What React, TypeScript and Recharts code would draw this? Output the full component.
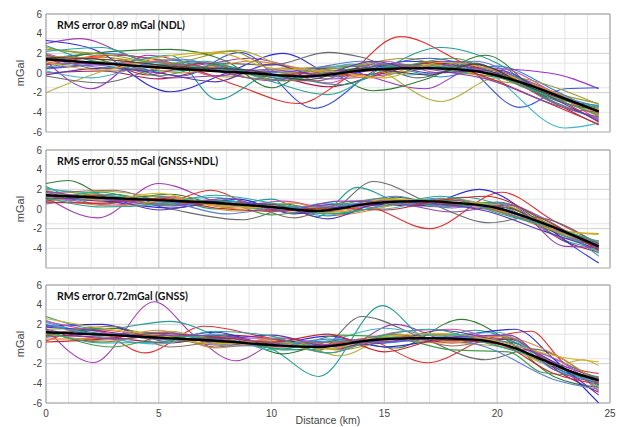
import { CartesianGrid, Line, LineChart, ReferenceArea, XAxis, YAxis } from "recharts";

type Pt = [number, number];

const X_TICKS = [0, 5, 10, 15, 20, 25];
const Y_TICKS = [-6, -4, -2, 0, 2, 4, 6];
const X_MINOR = [0, 1, 2, 3, 4, 5, 6, 7, 8, 9, 10, 11, 12, 13, 14, 15, 16, 17, 18, 19, 20, 21, 22, 23, 24, 25];
const Y_MINOR = [-6, -5.5, -5, -4.5, -4, -3.5, -3, -2.5, -2, -1.5, -1, -0.5, 0, 0.5, 1, 1.5, 2, 2.5, 3, 3.5, 4, 4.5, 5, 5.5, 6];

// ---- panel 1: NDL ----
const NDL_TITLE = "RMS error 0.89 mGal (NDL)";
const NDL_MEAN: Pt[] = [[0, 1.4], [3, 0.9], [6, 0.4], [9, 0.0], [11.5, -0.35], [14.5, 0.35], [17, 0.5], [19, 0.2], [21, -0.9], [23, -2.6], [24.5, -3.9]];
const NDL_RUNS: Pt[][] = [
  [[0, 1.2], [2.5, 1.6], [5, 0.7], [7.5, 0.6], [10, -0.4], [12.5, 0.0], [15, 0.3], [17.5, 0.9], [20, -0.4], [22.5, -2.2], [24.5, -4.4]],
  [[0, 1.8], [3, 0.6], [5.5, 0.2], [8, 0.5], [10.5, -0.6], [13, 0.1], [15.5, 0.9], [18, 0.2], [20.5, -0.7], [23, -2.8], [24.5, -3.3]],
  [[0, 0.4], [2.5, 0.9], [5, 1.1], [7.5, 0.2], [10, 0.1], [12.5, -0.6], [15, -0.2], [17.5, 0.6], [20, 0.0], [22.5, -2.9], [24.5, -4.7]],
  [[0, 2.6], [3, 1.5], [5.5, 0.9], [8, -0.4], [10.5, 0.5], [13, -0.2], [15.5, 0.0], [18, 1.0], [20.5, -0.2], [23, -2.3], [24.5, -3.1]],
  [[0, 1.4], [2.5, 2.0], [5, 1.4], [7.5, 0.9], [10, 0.0], [12.5, 0.6], [15, 0.7], [17.5, -0.4], [20, 0.7], [22.5, -1.7], [24.5, -4.1]],
  [[0, 0.0], [2.5, 0.2], [5, -0.6], [7.5, 0.4], [10, -0.2], [12.5, -1.4], [15, 0.0], [17.5, 1.2], [20, -0.1], [22.5, -3.0], [24.5, -5.3]],
  [[0, 3.0], [1.5, 3.5], [4, 1.5], [6.5, 0.8], [9, 1.5], [12, 0.2], [15, 0.5], [18, 1.2], [21, -0.5], [24.5, -4.2]],
  [[0, 1.2], [2, -1.6], [4.5, 1.8], [7, 0.6], [10, -0.8], [12.5, 0.5], [16.8, -1.6], [19, 0.5], [22.3, 0.0], [24.5, -1.6]],
  [[0, 3.3], [2, 2.5], [5.5, -1.9], [8, 0.0], [10.5, 2.0], [13, -0.3], [16, 1.2], [19, 0.5], [24.5, -4.0]],
  [[0, 0.5], [3, 0.9], [6, -0.3], [8.6, 2.1], [11.9, -3.6], [14.8, 0.5], [17, 1.5], [18.5, 0.8], [21, -3.5], [23, -1.6], [24.5, -1.5]],
  [[0, -2.0], [3, 0.5], [6, 1.6], [8.5, 2.3], [11, 0.5], [14, 0.8], [17.5, -2.9], [20, -0.5], [24.5, -4.5]],
  [[0, 1.0], [3, 1.8], [6, 0.8], [8.5, -1.3], [11.2, -3.1], [13, -1.0], [15.7, 3.7], [19, 0.5], [21, -0.8], [24.5, -5.0]],
  [[0, 2.8], [3, 1.0], [5.5, 1.8], [7.6, -2.7], [10, -0.2], [13, -1.2], [17.5, 2.6], [20, 1.0], [22.5, -3.0], [24.5, -4.6]],
  [[0, 0.2], [2, -0.5], [5, 0.9], [8, 0.3], [11, -0.5], [13.5, 0.9], [16, -0.2], [19, 0.4], [23, -5.6], [24.5, -5.1]],
  [[0, -0.3], [2.5, -1.0], [5, 0.5], [7.5, 1.0], [10, 0.8], [12.5, 2.1], [14, 1.6], [16.5, -0.5], [19, 1.0], [21, -1.3], [24.5, -3.6]],
  [[0, 1.3], [3, 2.2], [5.5, 2.4], [8, 1.2], [10, -1.5], [12, 0.5], [14.5, -1.8], [17, -0.5], [19.5, 1.8], [22, -2.2], [24.5, -3.8]],
  [[0, 2.0], [2.5, 0.8], [5, 1.2], [7.5, -0.3], [10, 0.4], [12.5, -1.0], [15, 1.2], [17.5, 0.0], [20, 0.5], [22.5, -2.0], [24.5, -4.8]],
  [[0, 1.7], [3, 1.3], [6, 0.0], [9, 1.2], [12, 0.2], [14.5, -0.5], [17, 1.0], [20, -0.8], [22, -1.5], [24.5, -4.2]],
  [[0, 2.4], [2.5, 1.9], [5.5, 1.0], [8.2, 2.2], [10.5, 0.0], [13, 0.5], [16, 1.5], [18.5, 0.0], [21, -0.5], [24.5, -3.2]],
  [[0, 0.8], [2, 1.5], [4.5, -0.2], [7, 1.0], [9.5, -0.3], [12, 0.0], [14, -0.2], [17, 1.0], [19.5, -0.4], [22, -2.8], [24.5, -5.2]],
  [[0, 1.5], [3, 0.5], [6, 1.4], [8.5, 0.3], [11, 0.3], [14, 1.2], [16.5, 0.4], [19, 1.2], [22, -1.8], [24.5, -3.4]],
  [[0, 0.6], [2.5, 1.2], [5, -0.3], [7.5, 0.8], [10.5, -0.8], [13, 0.3], [15.5, 0.6], [18, 1.5], [20.5, -0.8], [23, -3.0], [24.5, -4.3]],
  [[0, 2.2], [2.5, 2.6], [5, 0.8], [7, 1.2], [9.5, -0.5], [12.5, -2.2], [15.5, 0.8], [18, 0.6], [20, -0.3], [22.5, -2.5], [24.5, -3.5]],
  [[0, 0.9], [3, 1.0], [5.5, -0.5], [8, -0.2], [10.5, 0.2], [13, -0.4], [15, 0.9], [17.5, 0.2], [19.5, -0.6], [22.5, -3.2], [24.5, -4.5]],
  [[0, 1.9], [3, 0.2], [6, 0.9], [9, -0.5], [12, -0.8], [14.5, 0.9], [17, 0.6], [20, -0.2], [23, -3.5], [24.5, -4.0]],
  [[0, -0.2], [2.5, 0.5], [5, 0.0], [7.5, -0.9], [10, 0.9], [12, -0.2], [14.5, 1.2], [17, 0.0], [20, 0.3], [22.5, -2.6], [24.5, -4.9]],
  [[0, 1.1], [2.5, 0.3], [5, 1.6], [7.5, 2.1], [10, 0.5], [12.5, 0.2], [15, -0.5], [17.5, 1.1], [20, 0.2], [22.5, -2.4], [24.5, -3.7]],
  [[0, 1.6], [3, 1.3], [6, 0.6], [9, 0.3], [11.5, -0.7], [14, 0.5], [17, -0.2], [19, 0.9], [21.5, -1.5], [24.5, -3.9]],
];
const NDL_COLORS = [
  "#ff5722", "#00897b", "#7e57c2", "#9e9d24", "#1e88e5", "#ad1457",
  "#a33ab5", "#9b30c8", "#2b2bd9", "#3a55e0", "#b5ad3a", "#e0312f", "#1f9e96", "#3ab5c9",
  "#6a6a6a", "#2e7d32", "#d64fb0", "#e08a2c", "#9a9a2a", "#c62828", "#5d7bd6", "#43a047",
  "#26a69a", "#8e44ad", "#8d6e63", "#5e35b1", "#d4b21f", "#424242",
];

// ---- panel 2: GNSS+NDL ----
const MIX_TITLE = "RMS error 0.55 mGal (GNSS+NDL)";
const MIX_MEAN: Pt[] = [[0, 1.4], [3, 1.1], [5, 0.9], [8, 0.55], [10, 0.2], [12, -0.2], [14.5, 0.6], [16.5, 0.8], [18, 0.65], [20, 0.1], [22, -1.4], [24.5, -3.8]];
const MIX_RUNS: Pt[][] = [
  [[0, 1.4], [2.5, 1.2], [5, 0.9], [7.5, 0.4], [10, 0.4], [12.5, -0.2], [15, 0.8], [17.5, 0.6], [20, 0.3], [22.5, -1.7], [24.5, -3.7]],
  [[0, 1.0], [3, 1.5], [5.5, 0.4], [8, 0.8], [10.5, 0.0], [13, 0.5], [15.5, 0.5], [18, 0.9], [20.5, -0.3], [23, -2.4], [24.5, -3.5]],
  [[0, 1.7], [2.5, 0.8], [5, 1.0], [7.5, 0.7], [10, -0.1], [12.5, -0.1], [15, 0.6], [17.5, 0.2], [20, 0.4], [22.5, -2.0], [24.5, -4.0]],
  [[0, 2.1], [3, 1.3], [5.5, 1.3], [8, 0.2], [10.5, 0.3], [13, -0.3], [15.5, 1.0], [18, 0.7], [20.5, -0.6], [23, -2.8], [24.5, -4.2]],
  [[0, 0.9], [2.5, 1.0], [5, 0.6], [7.5, 0.9], [10, 0.3], [12.5, -0.7], [15, 0.4], [17.5, 1.1], [20, -0.1], [22.5, -2.1], [24.5, -3.6]],
  [[0, 1.3], [3, 0.8], [5.5, 1.0], [8, 0.5], [10.5, 0.1], [13, 0.1], [15.5, 0.5], [18, 0.5], [20.5, 0.1], [23, -3.3], [24.5, -4.4]],
  [[0, 2.6], [1, 2.9], [3, 1.0], [5.5, 1.5], [8, 0.4], [10.5, 0.5], [13, -0.5], [15.5, 1.2], [18, 0.3], [20, 0.5], [22.5, -2.3], [24.5, -3.9]],
  [[0, 1.2], [2.3, -0.9], [5, 2.6], [7.5, 0.8], [10, 0.0], [12.5, 0.4], [15, 0.5], [17.5, 1.0], [20, 0.0], [22, -1.5], [24.5, -4.0]],
  [[0, 0.8], [2.5, 1.4], [5, 0.5], [7.3, 1.9], [9.5, 0.0], [12, -0.4], [14, 0.3], [17, -2.0], [20.2, 1.7], [22.5, -1.2], [24.5, -3.5]],
  [[0, 1.0], [3, 1.2], [5.5, 0.0], [8.7, -1.1], [11, 0.2], [12.5, -0.2], [14.5, 2.8], [17, 0.6], [19.7, -1.4], [21.5, -0.8], [24.5, -3.6]],
  [[0, 2.3], [2.5, 0.5], [5, 1.3], [7.5, 0.0], [10, 1.0], [12, -0.8], [13.8, 2.2], [16, 0.5], [18.5, 1.2], [21, -0.5], [23, -3.2], [24.5, -4.0]],
  [[0, 1.8], [3, 0.7], [5.5, 0.1], [8.5, 1.0], [11, -0.5], [14, 0.5], [16.5, 0.3], [19.2, 2.0], [22, -1.5], [23.5, -4.0], [24.5, -5.5]],
  [[0, 0.6], [2.5, 1.8], [5.5, 1.0], [8.5, -0.2], [11, 0.3], [13.5, -0.3], [16, 0.8], [18.5, 0.2], [21, -0.5], [23.5, -2.4], [24.5, -2.5]],
  [[0, 2.0], [2.5, 1.5], [5, 0.8], [7.5, 1.2], [10, -0.3], [12.5, 0.6], [15, 0.0], [17.5, 1.1], [20, 0.2], [22.5, -2.2], [24.5, -4.3]],
  [[0, 1.5], [3, 0.4], [5.5, 1.2], [8, 0.2], [10.5, 0.8], [13, -0.1], [15.5, 0.9], [18, 0.3], [20.5, -0.2], [23, -3.0], [24.5, -3.2]],
  [[0, 0.9], [2.5, 1.7], [5, 0.4], [7.5, 0.9], [10, -0.6], [12.5, 0.2], [15, 1.1], [17.5, 0.3], [20, 0.7], [22.5, -1.8], [24.5, -4.5]],
  [[0, 1.3], [3, 0.3], [6, 1.0], [8.5, 0.0], [11, 0.6], [13, -0.6], [15.5, 0.4], [18, 1.0], [20.5, -0.5], [23, -2.6], [24.5, -3.7]],
  [[0, 1.1], [2.5, 1.1], [5, -0.1], [7.5, 0.6], [10, 0.5], [12.5, -1.0], [15, 0.7], [17.5, 0.5], [19.5, -0.2], [22, -2.2], [24.5, -4.1]],
  [[0, 1.6], [3, 1.9], [5.5, 0.6], [8.5, 0.6], [11, -0.9], [13.5, 0.8], [16, 0.9], [18.5, 0.6], [21, -0.9], [24.5, -3.4]],
  [[0, 0.5], [3, 1.2], [5.5, 0.7], [8, -0.5], [10.5, 0.2], [13, 0.3], [15.5, 1.3], [18, 0.1], [20, 0.6], [22.5, -1.5], [24.5, -4.8]],
  [[0, 1.9], [2.5, 0.9], [5, 1.6], [7.5, 0.3], [10, 0.1], [12.5, -0.4], [15, 1.0], [17.5, 0.8], [20.5, 0.3], [22.5, -2.0], [24.5, -2.6]],
  [[0, 0.7], [2.5, 0.6], [5, 1.1], [7.5, 0.1], [10, -0.2], [12.5, 0.1], [15, -0.1], [17.5, 0.9], [19.5, 1.3], [22, -1.0], [24.5, -4.2]],
  [[0, 1.8], [3, 0.9], [5.5, 0.3], [8, 1.1], [10.5, -0.2], [13, 0.8], [15.5, 0.6], [18, -0.3], [20.5, 0.4], [23, -3.8], [24.5, -3.9]],
  [[0, 1.2], [2.5, 0.2], [5, 0.5], [7.5, 1.4], [10, 0.6], [12.5, -0.5], [15, 0.3], [17.5, 1.3], [20, -0.4], [22.5, -1.9], [24.5, -3.3]],
];
const MIX_COLORS = [
  "#ff5722", "#00897b", "#7e57c2", "#9e9d24", "#1e88e5", "#ad1457",
  "#2e7d32", "#a33ab5", "#e0312f", "#6a6a6a", "#1f9e96", "#2b2bd9", "#b5ad3a", "#3ab5c9", "#d64fb0",
  "#43a047", "#e08a2c", "#5e35b1", "#8d6e63", "#5d7bd6", "#d4b21f", "#c62828", "#8e44ad", "#26a69a",
];

// ---- panel 3: GNSS ----
const GNSS_TITLE = "RMS error 0.72mGal (GNSS)";
const GNSS_MEAN: Pt[] = [[0, 1.2], [3, 0.9], [5, 0.65], [8, 0.25], [10, -0.1], [12, -0.3], [14.5, 0.4], [16.5, 0.6], [19, 0.45], [20.5, -0.2], [22, -1.6], [23.5, -3.0], [24.5, -3.7]];
const GNSS_RUNS: Pt[][] = [
  [[0, 1.1], [2.5, 1.4], [5, 0.7], [7.5, 0.2], [10, -0.3], [12.5, 0.0], [15, 0.6], [17.5, 0.9], [20, 0.1], [22.5, -2.3], [24.5, -3.7]],
  [[0, 1.9], [3, 0.9], [5.5, 0.5], [8, 0.7], [10.5, -0.6], [13, -0.4], [15.5, 0.7], [18, 0.4], [20.5, 0.2], [23, -2.9], [24.5, -4.0]],
  [[0, 0.7], [2.5, 1.0], [5, 0.9], [7.5, -0.1], [10, 0.4], [12.5, 0.2], [15, 0.3], [17.5, 0.3], [20, 0.6], [22.5, -1.9], [24.5, -3.4]],
  [[0, 1.5], [3, 1.6], [5.5, 0.5], [8, 0.0], [10.5, 0.2], [13, -0.6], [15.5, 0.6], [18, 1.0], [20.5, -0.5], [23, -2.5], [24.5, -4.5]],
  [[0, 2.4], [2.5, 1.0], [5, 1.2], [7.5, 0.4], [10, -0.2], [12.5, 0.3], [15, 0.1], [17.5, 0.7], [20, 0.4], [22.5, -2.4], [24.5, -3.9]],
  [[0, 0.9], [3, 0.6], [5.5, 0.1], [8, 0.9], [10.5, 0.4], [13, -0.3], [15.5, 0.9], [18, 0.1], [20.5, 0.5], [23, -3.2], [24.5, -4.9]],
  [[0, 1.6], [2.1, -1.9], [4.8, 4.3], [6.5, 1.0], [8.4, -1.7], [10.5, 0.3], [13, -0.5], [15.5, 2.0], [18, 0.3], [20, 0.9], [22.5, -1.8], [24.5, -3.5]],
  [[0, 0.3], [2, 1.5], [4.4, -0.9], [7, 1.8], [9.5, 0.8], [12, -0.3], [14, 0.5], [16.9, -1.9], [19.5, 0.5], [21.5, 1.3], [23, -2.0], [24.5, -3.0]],
  [[0, 2.8], [2.5, 1.5], [5.5, 2.3], [8, 0.5], [10, -0.5], [12.1, -3.3], [14.9, 3.9], [17, 0.5], [19, 1.4], [21.5, -0.5], [24.5, -3.6]],
  [[0, 1.2], [2.5, 0.2], [5, 1.0], [7.5, -0.3], [10, 0.5], [12, -0.7], [14, 2.8], [16.5, 0.8], [19.5, -1.6], [21.5, -0.5], [24.5, -4.2]],
  [[0, 0.8], [3, 1.6], [5.5, 0.2], [8, 0.9], [10.5, -1.0], [13, 0.4], [15.5, -0.4], [18.4, 2.5], [20.5, 0.3], [22.5, -3.3], [24.5, -4.4]],
  [[0, 1.8], [2.5, 2.0], [5, 0.5], [7.5, 1.2], [10, 0.0], [12.5, 0.8], [15, -0.3], [17.5, 0.5], [20.8, 1.5], [22.5, -1.5], [24.5, -6.0]],
  [[0, 1.0], [3, 0.3], [5.5, 1.3], [8, 0.1], [10.5, 0.6], [13, -1.2], [15.5, 0.9], [18, 0.2], [20.5, -0.4], [22.5, -2.2], [23.8, -1.6], [24.5, -2.2]],
  [[0, 2.2], [2.5, 0.7], [5, 0.0], [7.5, 1.0], [10, -0.6], [12.5, 0.3], [15, 1.6], [17.5, 0.8], [20, 1.2], [22.5, -2.6], [24.5, -3.8]],
  [[0, 2.3], [3, 1.0], [5.5, 0.4], [8, 0.6], [10.5, 0.6], [13, -0.2], [15.5, 1.2], [18, 1.5], [20.5, -0.2], [23, -2.0], [24.5, -4.8]],
  [[0, 0.5], [2.5, 0.6], [5, 1.4], [7.5, -0.4], [10, 0.2], [12.5, -0.9], [15, 0.5], [17.5, 0.1], [20, 0.8], [22.5, -1.0], [24.5, -4.0]],
  [[0, 1.4], [3, -0.3], [5.5, 0.8], [8, 0.4], [10.5, -0.5], [13, 0.9], [15.5, 0.6], [18, -0.6], [20.5, -0.8], [22, -2.9], [24.5, -3.3]],
  [[0, 1.7], [2.5, 1.3], [5, 0.6], [7.5, 0.5], [10, 0.9], [12.5, -0.2], [15, 0.1], [17.5, 1.4], [19.5, 0.6], [22, -1.2], [24.5, -5.2]],
  [[0, 0.9], [3, 1.8], [5.5, -0.3], [8, 0.3], [10.5, 0.1], [13, 0.2], [15.5, 1.0], [18, -0.2], [20.5, 0.6], [22.5, -2.1], [24.5, -3.5]],
  [[0, 2.0], [3, 0.8], [5.5, 1.2], [8, -0.2], [10.5, 0.0], [12.5, 0.5], [15, 0.2], [17.5, 0.6], [19.5, -0.3], [22.5, -3.6], [24.5, -4.6]],
  [[0, 2.6], [2.5, 1.6], [5, 0.9], [7.5, 0.0], [10, 0.3], [12.5, -0.5], [15, 0.8], [17.5, 1.1], [20, 0.3], [23, -1.4], [24.5, -1.8]],
  [[0, 0.2], [2.5, 0.5], [5, 1.1], [7.5, 0.7], [10, 0.2], [12.5, 1.0], [15, -0.8], [17.5, 0.4], [20, 0.0], [22.5, -3.0], [24.5, -4.1]],
  [[0, 1.3], [2.5, 0.1], [5, 0.2], [7.5, 1.3], [10, 0.8], [12.5, -0.9], [15, 0.9], [17, 1.5], [19.5, 0.1], [22, -1.6], [24.5, -4.3]],
  [[0, 1.5], [3, 0.5], [5.5, 0.9], [8, 0.8], [10.5, -0.3], [13, 0.0], [15.5, 0.3], [18, 0.7], [20.5, 0.9], [22.5, -2.6], [24.5, -3.9]],
];
const GNSS_COLORS = [
  "#ff5722", "#00897b", "#7e57c2", "#9e9d24", "#1e88e5", "#ad1457",
  "#a33ab5", "#e0312f", "#1f9e96", "#6a6a6a", "#2e7d32", "#2b2bd9", "#b5ad3a", "#3ab5c9", "#d64fb0",
  "#e08a2c", "#43a047", "#5e35b1", "#8d6e63", "#5d7bd6", "#d4b21f", "#c62828", "#26a69a", "#8e44ad",
];

const AXIS_TEXT = { fill: "#444", fontSize: 10, fontFamily: "Liberation Sans, Arial, sans-serif" };
const FRAME = "#a8a8a8";

const rows = (pts: Pt[]) => pts.map(([x, y]) => ({ x, y }));

type PanelProps = {
  title: string;
  mean: Pt[];
  runs: Pt[][];
  colors: string[];
  top: number;
  height: number;
  margin: { top: number; right: number; bottom: number; left: number };
  showX?: boolean;
};

function Panel({ title, mean, runs, colors, top, height, margin, showX }: PanelProps) {
  return (
    <div style={{ position: "absolute", left: 0, top }}>
      <LineChart width={620} height={height} margin={margin}>
        <CartesianGrid stroke="#e4e4e4" horizontalValues={Y_MINOR} verticalValues={X_MINOR} />
        <CartesianGrid stroke="#cfcfcf" horizontalValues={Y_TICKS} verticalValues={X_TICKS} />
        <XAxis
          dataKey="x"
          type="number"
          domain={[0, 25]}
          ticks={X_TICKS}
          hide={!showX}
          height={24}
          axisLine={false}
          tickLine={false}
          tickSize={3}
          tickMargin={4}
          tick={AXIS_TEXT}
          label={{
            value: "Distance (km)",
            position: "insideBottom",
            offset: 3,
            style: { ...AXIS_TEXT, fontSize: 10.5, textAnchor: "middle" },
          }}
        />
        <YAxis
          type="number"
          domain={[-6, 6]}
          ticks={Y_TICKS}
          allowDataOverflow
          width={42}
          axisLine={false}
          tickLine={false}
          tickSize={3}
          tickMargin={1}
          tick={AXIS_TEXT}
          label={{
            value: "mGal",
            angle: -90,
            position: "insideLeft",
            offset: 16,
            style: { ...AXIS_TEXT, fontSize: 11, textAnchor: "middle" },
          }}
        />
        <ReferenceArea
          x1={0}
          x2={25}
          y1={-6}
          y2={6}
          fill="none"
          stroke={FRAME}
          ifOverflow="visible"
          label={{
            content: (p: any) => (
              <text
                x={p.viewBox.x + 11}
                y={p.viewBox.y + 15}
                fill="#111"
                fontSize={10.5}
                fontWeight={700}
                fontFamily="Lato, sans-serif"
              >
                {title}
              </text>
            ),
          }}
        />
        {runs.map((pts, i) => (
          <Line
            key={i}
            data={rows(pts)}
            dataKey="y"
            type="monotone"
            stroke={colors[i % colors.length]}
            strokeWidth={1.1}
            dot={false}
            activeDot={false}
            isAnimationActive={false}
          />
        ))}
        <Line
          data={rows(mean)}
          dataKey="y"
          type="monotone"
          stroke="#000"
          strokeWidth={2.4}
          dot={false}
          activeDot={false}
          isAnimationActive={false}
        />
      </LineChart>
    </div>
  );
}

export default function App() {
  return (
    <div style={{ position: "absolute", left: 0, top: 0, width: 620, height: 427, background: "#fff", overflow: "hidden" }}>
      <Panel
        title={NDL_TITLE}
        mean={NDL_MEAN}
        runs={NDL_RUNS}
        colors={NDL_COLORS}
        top={0}
        height={140}
        margin={{ top: 14, right: 10, bottom: 8, left: 4 }}
      />
      <Panel
        title={MIX_TITLE}
        mean={MIX_MEAN}
        runs={MIX_RUNS}
        colors={MIX_COLORS}
        top={136}
        height={136}
        margin={{ top: 14, right: 10, bottom: 4, left: 4 }}
      />
      <Panel
        title={GNSS_TITLE}
        mean={GNSS_MEAN}
        runs={GNSS_RUNS}
        colors={GNSS_COLORS}
        top={270}
        height={157}
        margin={{ top: 15, right: 10, bottom: 0, left: 4 }}
        showX
      />
    </div>
  );
}
